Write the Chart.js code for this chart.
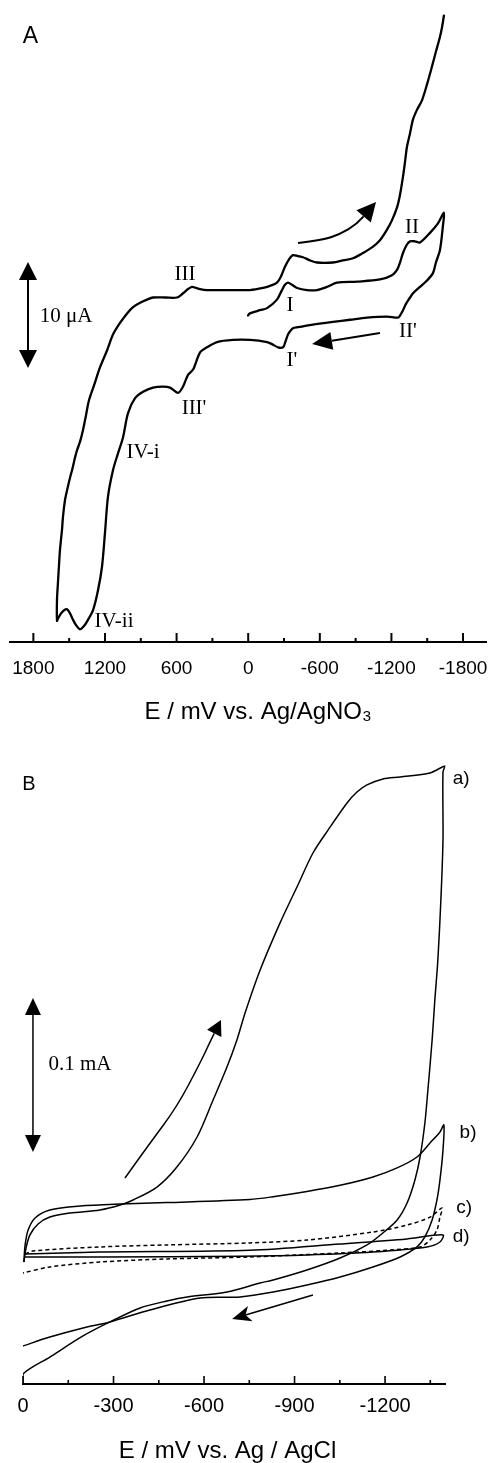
<!DOCTYPE html>
<html><head><meta charset="utf-8">
<script src="https://cdn.jsdelivr.net/npm/chart.js@4"></script>
<style>
html,body{margin:0;padding:0;background:#fff;}
#wrap{position:relative;width:490px;height:1463px;overflow:hidden;background:#fff;}
canvas{position:absolute;left:0;}
#ca{top:0;width:490px;height:730px;}
#cb{top:730px;width:490px;height:733px;}
</style></head><body>
<div id="wrap"><canvas id="ca" width="490" height="730"></canvas><canvas id="cb" width="490" height="733"></canvas></div>
<script>
// ---------- Panel A data (E in mV vs Ag/AgNO3, I in µA, arbitrary offset) ----------
const A_fwd1_E = [2,-15,-99,-158,-241,-283,-308,-333,-367,-409,-493,-576,-660,-744,-912,-1104,-1205,-1247,-1272,-1297,-1330,-1356,-1397,-1439,-1523,-1590,-1640];
const A_fwd1_I = [30.8,31.0,31.3,31.5,32.3,33.2,33.7,33.9,33.7,33.4,33.2,33.2,33.5,33.9,34.0,34.2,34.6,35.1,35.8,36.7,37.5,37.8,37.8,37.7,38.6,39.5,40.5];
const A_rev_E = [-1632,-1607,-1573,-1548,-1498,-1439,-1381,-1356,-1322,-1297,-1272,-1255,-1163,-995,-853,-710,-518,-417,-375,-350,-333,-308,-292,-250,-199,-158,-15,127,261,345,404,462,504,546,588,655,714,798,881,948,1007,1049,1091,1133,1175,1200,1225,1258,1300,1342,1376,1409,1443,1468,1493,1518,1543,1568,1594,1602];
const A_rev_I = [39.3,37.0,35.8,34.8,34.1,33.5,32.9,32.5,31.9,31.3,30.8,30.6,30.7,30.6,30.4,30.2,29.9,29.7,29.6,29.3,29.0,28.2,27.8,27.8,28.1,28.3,28.5,28.5,28.3,27.8,27.3,25.7,25.2,24.1,23.5,24.0,24.1,24.0,23.6,23.0,21.6,19.3,17.8,16.2,13.7,10.3,7.1,4.9,3.0,2.1,1.5,1.2,1.6,2.1,2.7,3.1,3.0,2.7,2.2,2.0];
const A_fwd2_E = [1602,1594,1585,1577,1560,1552,1535,1518,1493,1476,1451,1434,1409,1384,1359,1334,1292,1242,1183,1133,1074,1015,965,906,848,798,697,597,546,504,471,437,404,345,295,127,-15,-124,-183,-241,-275,-308,-342,-375,-417,-459,-518,-576,-710,-794,-878,-962,-1046,-1104,-1163,-1205,-1247,-1272,-1297,-1314,-1330,-1356,-1381,-1414,-1456,-1498,-1540,-1573,-1607,-1624,-1640];
const A_fwd2_I = [4.0,5.6,7.3,8.7,10.6,11.8,13.4,14.3,15.5,16.2,17.4,18.1,18.9,20.0,21.4,22.8,24.2,25.9,27.5,29.0,30.1,31.0,31.6,32.0,32.3,32.5,32.5,32.5,32.9,33.3,33.5,33.4,33.3,33.2,33.2,33.2,33.2,33.4,33.6,33.9,34.5,35.4,36.1,36.5,36.4,36.3,36.0,35.8,35.8,36.0,36.2,36.7,37.3,37.9,38.9,39.8,41.0,42.2,43.9,45.3,46.7,48.0,49.3,50.2,51.1,52.6,54.3,55.7,57.1,58.0,59.1];
const ticksA = [-1800,-1500,-1200,-900,-600,-300,0,300,600,900,1200,1500,1800];

// ---------- Panel B data (E in mV vs Ag/AgCl, I in µA, arbitrary offset) ----------
const a_fwd_E = [-3,-10,-23,-50,-89,-156,-255,-322,-365,-444,-510,-577,-630,-676,-709,-736,-786,-852,-908,-961,-1011,-1074,-1107,-1140,-1193,-1250,-1349,-1399];
const a_fwd_I = [79.2,88.3,96.8,103.9,108.4,111.0,113.0,116.2,119.5,127.9,140.9,160.4,184.4,205.8,223.4,240.9,268.8,299.4,322.7,344.8,359.7,377.3,384.4,389.0,392.9,394.2,396.8,401.3];
const a_rev_E = [-1392,-1392,-1385,-1375,-1365,-1356,-1342,-1332,-1316,-1299,-1273,-1240,-1193,-1140,-1051,-941,-829,-786,-676,-544,-477,-388,-288,-199,-89,0,0];
const a_rev_I = [397.4,353.2,314.3,275.3,249.4,223.4,190.9,169.5,147.4,132.5,117.5,106.5,98.1,90.3,81.8,74.0,67.5,65.6,59.7,56.5,53.9,49.4,40.3,31.2,17.5,6.5,0];
const b_fwd_E = [-3,-7,-17,-40,-89,-189,-322,-477,-752,-829,-941,-1051,-1160,-1240,-1306,-1349,-1382,-1395];
const b_fwd_I = [79.2,90.3,100.0,107.8,113.0,115.6,116.9,117.8,119.8,121.6,125.0,129.0,134.4,140.3,147.4,156.5,163.6,168.2];
const b_rev_E = [-1392,-1382,-1372,-1356,-1332,-1306,-1250,-1160,-1051,-941,-829,-719,-587,-421,-288,-199,-89,0];
const b_rev_I = [151.9,132.5,119.5,106.5,95.5,89.0,82.5,76.0,69.5,64.3,59.7,56.5,55.8,48.1,40.3,36.4,30.5,24.7];
const c_fwd_E = [-7,-33,-255,-477,-752,-941,-1160,-1273,-1349,-1389];
const c_fwd_I = [84.4,86.4,89.0,90.3,91.6,93.5,98.7,103.2,108.4,114.3];
const c_rev_E = [-1382,-1372,-1349,-1316,-1216,-1051,-752,-477,-255,-89,0];
const c_rev_I = [108.4,100.0,93.5,89.0,87.0,85.1,82.5,81.2,79.2,76.0,72.1];
const d_fwd_E = [-7,-255,-752,-1051,-1273,-1392];
const d_fwd_I = [84.4,85.7,86.8,90.9,94.2,96.8];
const d_rev_E = [-1382,-1339,-1160,-941,-719,-255,-7];
const d_rev_I = [92.2,89.0,85.7,83.8,83.0,82.5,82.5];
const ticksB = [-1350,-1200,-1050,-900,-750,-600,-450,-300,-150,0];

// ---------- helpers ----------
const pts = (E, I) => E.map((e, i) => ({x: e, y: I[i]}));
const SANS = '"Liberation Sans", Arial, Helvetica, sans-serif';
const SERIF = '"Liberation Serif", "Times New Roman", Times, serif';

const inwardTicks = {
  id: 'inwardTicks',
  afterDraw(chart, args, o) {
    const sc = chart.scales.x, ctx = chart.ctx, y0 = chart.chartArea.bottom;
    ctx.save();
    ctx.strokeStyle = '#000'; ctx.lineWidth = o.width;
    sc.ticks.forEach(t => {
      const x = sc.getPixelForValue(t.value);
      const len = (t.value % o.majorStep === 0) ? o.major : o.minor;
      ctx.beginPath(); ctx.moveTo(x, y0); ctx.lineTo(x, y0 - len); ctx.stroke();
    });
    ctx.restore();
  }
};

function head(ctx, tip, ang, len, hw, notch) {
  const bx = tip[0] - len * Math.cos(ang), by = tip[1] - len * Math.sin(ang);
  const nx = Math.sin(ang), ny = -Math.cos(ang);
  ctx.beginPath();
  ctx.moveTo(tip[0], tip[1]);
  ctx.lineTo(bx + hw * nx, by + hw * ny);
  if (notch) ctx.lineTo(bx + notch * Math.cos(ang), by + notch * Math.sin(ang));
  ctx.lineTo(bx - hw * nx, by - hw * ny);
  ctx.closePath(); ctx.fill();
  return [bx + (notch || 0) * Math.cos(ang), by + (notch || 0) * Math.sin(ang)];
}

const notes = {
  id: 'notes',
  afterDraw(chart, args, o) {
    const sx = chart.scales.x, sy = chart.scales.y, ctx = chart.ctx;
    const P = p => [sx.getPixelForValue(p[0]), sy.getPixelForValue(p[1])];
    ctx.save();
    ctx.fillStyle = '#000'; ctx.strokeStyle = '#000';
    ctx.textAlign = 'center'; ctx.textBaseline = 'middle';
    (o.texts || []).forEach(t => { ctx.font = t.font; const q = P(t.at); ctx.fillText(t.text, q[0], q[1]); });
    ctx.lineWidth = o.lw; ctx.lineCap = 'butt'; ctx.lineJoin = 'round';
    (o.arrows || []).forEach(a => {
      const p = a.pts.map(P);
      const tip = p[p.length - 1], prev = p[p.length - 2];
      const ang = Math.atan2(tip[1] - prev[1], tip[0] - prev[0]);
      const base = head(ctx, tip, ang, a.len, a.hw, a.notch);
      ctx.beginPath(); ctx.moveTo(p[0][0], p[0][1]);
      if (p.length > 2) {
        for (let i = 1; i < p.length - 2; i++) {
          const mx = (p[i][0] + p[i + 1][0]) / 2, my = (p[i][1] + p[i + 1][1]) / 2;
          ctx.quadraticCurveTo(p[i][0], p[i][1], mx, my);
        }
        const k = p.length - 2;
        ctx.quadraticCurveTo(p[k][0], p[k][1], base[0], base[1]);
      } else {
        ctx.lineTo(base[0], base[1]);
      }
      ctx.stroke();
    });
    (o.bars || []).forEach(b => {
      const t = P([b.e, b.i1]), btm = P([b.e, b.i2]);
      head(ctx, t, -Math.PI / 2, b.len, b.hw);
      head(ctx, btm, Math.PI / 2, b.len, b.hw);
      ctx.beginPath(); ctx.moveTo(t[0], t[1] + b.len); ctx.lineTo(btm[0], btm[1] - b.len); ctx.stroke();
    });
    ctx.restore();
  }
};

function xScale(o) {
  return {
    type: 'linear', min: o.min, max: o.max, reverse: true,
    afterBuildTicks: s => { s.ticks = o.ticks.map(v => ({value: v})); },
    afterFit: s => { s.height = o.height; s.paddingLeft = 0; s.paddingRight = 0; },
    grid: {display: false, drawTicks: false},
    border: {display: true, color: '#000', width: 2},
    ticks: {autoSkip: false, maxRotation: 0, minRotation: 0, padding: o.pad, color: '#000',
      font: {family: SANS, size: o.fs}, callback: v => (v % o.step === 0 ? String(v) : '')},
    title: {display: true, text: o.title, color: '#000',
      font: {family: SANS, size: 24, lineHeight: 1}, padding: {top: 0, bottom: o.tpad}}
  };
}

const common = {responsive: false, animation: false, events: []};

// ---------- Chart A ----------
new Chart(document.getElementById('ca'), {
  type: 'line',
  data: {datasets: [{
    data: pts(A_fwd1_E.concat(A_rev_E, A_fwd2_E), A_fwd1_I.concat(A_rev_I, A_fwd2_I)),
    borderColor: '#000', borderWidth: 2.3, pointRadius: 0, tension: 0.3, fill: false,
    borderJoinStyle: 'round', borderCapStyle: 'round'
  }]},
  options: Object.assign({}, common, {
    layout: {padding: {left: 9.5, right: 3.1, top: 6, bottom: 0}},
    plugins: {
      legend: {display: false}, tooltip: {enabled: false},
      inwardTicks: {width: 2, major: 9, minor: 4, majorStep: 600},
      notes: {
        lw: 2,
        texts: [
          {text: 'A', at: [1824, 57.1], font: '23px ' + SANS},
          {text: 'III', at: [529, 34.7], font: '21px ' + SERIF},
          {text: 'I', at: [-350, 31.7], font: '21px ' + SERIF},
          {text: 'II', at: [-1372, 39.15], font: '21px ' + SERIF},
          {text: "II'", at: [-1339, 29.25], font: '21px ' + SERIF},
          {text: "I'", at: [-367, 26.6], font: '21px ' + SERIF},
          {text: "III'", at: [454, 22.0], font: '21px ' + SERIF},
          {text: 'IV-i', at: [881, 17.9], font: '21px ' + SERIF},
          {text: 'IV-ii', at: [1124, 1.9], font: '21px ' + SERIF},
          {text: '10 \u03BCA', at: [1526, 30.7], font: '21px ' + SERIF}
        ],
        arrows: [
          {pts: [[-417, 37.64], [-627, 37.92], [-769, 38.49], [-912, 39.43], [-1071, 41.51]], len: 19, hw: 9.5},
          {pts: [[-1104, 29.15], [-535, 28.11]], len: 20, hw: 9}
        ],
        bars: [{e: 1845, i1: 35.85, i2: 25.85, len: 18, hw: 9}]
      }
    },
    scales: {
      x: xScale({min: -2000, max: 2000, ticks: ticksA, step: 600, height: 88, pad: 15, fs: 19,
        title: '   E / mV vs. Ag/AgNO\u2083', tpad: 6}),
      y: {type: 'linear', display: false, min: 0, max: 60}
    }
  }),
  plugins: [inwardTicks, notes]
});

// ---------- Chart B ----------
const lineB = (E, I, dash) => ({data: pts(E, I), borderColor: '#000', borderWidth: 1.5, pointRadius: 0,
  tension: 0.3, fill: false, borderDash: dash || [], borderJoinStyle: 'round'});
new Chart(document.getElementById('cb'), {
  type: 'line',
  data: {datasets: [
    lineB(a_fwd_E.concat(a_rev_E), a_fwd_I.concat(a_rev_I)),
    lineB(b_fwd_E.concat(b_rev_E), b_fwd_I.concat(b_rev_I)),
    lineB(c_fwd_E.concat(c_rev_E), c_fwd_I.concat(c_rev_I), [4, 3]),
    lineB(d_fwd_E.concat(d_rev_E), d_fwd_I.concat(d_rev_I))
  ]},
  options: Object.assign({}, common, {
    layout: {padding: {left: 23, right: 44.6, top: 22.6, bottom: 0}},
    plugins: {
      legend: {display: false}, tooltip: {enabled: false},
      inwardTicks: {width: 1.6, major: 8, minor: 4, majorStep: 300},
      notes: {
        lw: 1.5,
        texts: [
          {text: 'B', at: [-20, 389], font: '20px ' + SANS},
          {text: 'a)', at: [-1452, 392.9], font: '19px ' + SANS},
          {text: 'b)', at: [-1475, 163.0], font: '19px ' + SANS},
          {text: 'c)', at: [-1462, 114.3], font: '19px ' + SANS},
          {text: 'd)', at: [-1452, 95.5], font: '19px ' + SANS},
          {text: '0.1 mA', at: [-189, 207.8], font: '21px ' + SERIF}
        ],
        arrows: [
          {pts: [[-338, 133.8], [-421, 156.5], [-510, 179.9], [-587, 208.4], [-623, 223.4], [-656, 236.4]], len: 15, hw: 8},
          {pts: [[-961, 57.8], [-693, 42.2]], len: 19, hw: 8, notch: 5}
        ],
        bars: [{e: -33, i1: 250.6, i2: 150.6, len: 17, hw: 8}]
      }
    },
    scales: {
      x: xScale({min: -1400, max: 0, ticks: ticksB, step: 300, height: 79, pad: 10.5, fs: 20,
        title: 'E / mV vs. Ag / AgCl  ', tpad: 0}),
      y: {type: 'linear', display: false, min: 0, max: 410}
    }
  }),
  plugins: [inwardTicks, notes]
});
</script>
</body></html>
